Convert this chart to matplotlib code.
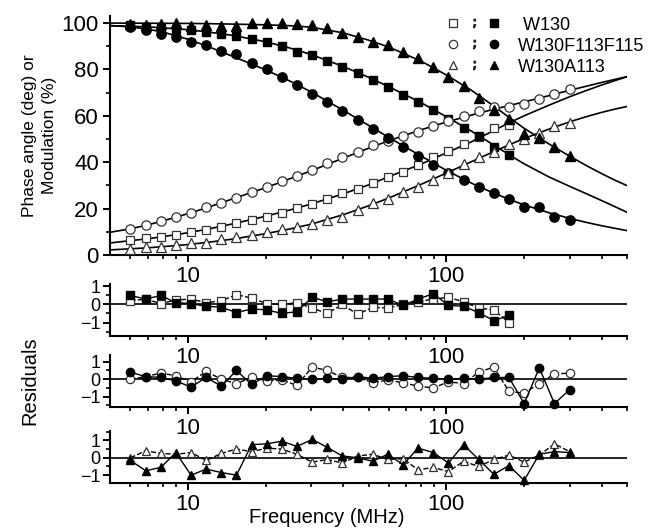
import matplotlib
matplotlib.use('Agg')
import matplotlib.pyplot as plt
from matplotlib.lines import Line2D
from matplotlib.legend_handler import HandlerTuple
from matplotlib.ticker import FixedLocator, NullFormatter

plt.rcParams['font.family'] = ['Liberation Sans', 'DejaVu Sans']

# measurement frequencies (MHz)
freq = [6.0, 6.87, 7.86, 8.99, 10.29, 11.78, 13.48, 15.42, 17.65, 20.2,
        23.1, 26.4, 30.3, 34.6, 39.6, 45.4, 51.9, 59.4, 68.0, 77.8,
        89.0, 101.9, 116.6, 133.4, 152.7, 174.7, 200.0, 228.9, 262.0, 300.0]
freq_w130 = freq[:26]

# W130 (squares)
w130_phase = [6.5, 7.2, 7.6, 8.8, 9.8, 10.8, 11.9, 13.7, 15.1, 16.5, 18.1, 20.1, 22.0,
              24.2, 26.6, 28.5, 30.9, 33.5, 35.7, 39.0, 42.4, 45.0, 47.9, 51.0, 54.6, 56.2]
w130_mod = [99.0, 98.3, 98.0, 97.6, 97.1, 96.1, 95.4, 94.2, 93.2, 91.8, 89.9, 87.5, 86.3,
            83.6, 81.0, 78.6, 75.5, 72.4, 68.8, 65.9, 62.6, 58.7, 54.8, 51.1, 46.5, 42.9]
# W130F113F115 (circles)
w115_phase = [11.2, 12.9, 14.5, 16.3, 18.1, 20.6, 22.4, 24.5, 27.1, 29.2, 31.7, 34.2, 36.5,
              39.7, 42.2, 44.3, 47.2, 49.3, 51.4, 53.2, 55.4, 57.9, 59.7, 61.9, 63.7, 63.9,
              65.2, 67.4, 69.6, 71.4]
w115_mod = [98.3, 97.1, 95.4, 94.0, 91.8, 90.6, 87.9, 86.5, 82.7, 80.3, 76.7, 73.1, 69.5,
            65.9, 62.0, 58.3, 54.4, 50.5, 46.5, 42.6, 39.0, 35.4, 32.4, 29.2, 26.6, 24.2,
            20.6, 20.6, 16.3, 15.3]
# W130A113 (triangles)
wa113_phase = [2.6, 3.3, 3.6, 4.3, 5.0, 5.2, 6.9, 7.9, 8.6, 10.1, 11.2, 12.2, 13.4, 15.1,
               16.5, 19.6, 22.3, 24.2, 27.1, 29.2, 32.5, 35.5, 39.2, 42.2, 44.3, 47.9, 50.1,
               52.7, 55.6, 56.9]
wa113_mod = [99.7, 99.2, 99.4, 100.1, 98.9, 99.2, 98.9, 98.5, 100.1, 100.1, 99.9, 99.7, 99.3,
             97.8, 95.8, 93.8, 92.0, 90.4, 87.3, 84.8, 81.2, 76.5, 73.0, 67.5, 62.3, 58.7,
             52.2, 50.3, 46.4, 42.6]

# fitted curves
fit_freq = [5, 6, 7, 8, 10, 12, 15, 20, 25, 30, 40, 50, 60, 80, 100, 125, 150, 175, 200,
            250, 300, 350, 400, 450, 500]
fit_w130_phase = [5.2, 6.2, 7.0, 7.9, 9.6, 11.2, 13.5, 16.7, 19.5, 22.0, 26.4, 30.2, 33.8,
                  39.2, 44.0, 48.8, 53.2, 57.0, 60.0, 64.6, 68.2, 71.0, 73.3, 75.2, 76.8]
fit_w130_mod = [98.8, 98.6, 98.3, 97.9, 97.1, 96.1, 94.6, 91.9, 89.1, 86.4, 81.2, 76.6, 72.5,
                65.6, 59.6, 53.4, 47.9, 43.2, 39.3, 33.6, 29.6, 26.3, 23.4, 20.8, 18.4]
fit_w115_phase = [9.8, 11.3, 13.0, 14.7, 17.8, 20.6, 24.3, 29.0, 33.0, 36.3, 41.8, 46.0, 49.3,
                  54.0, 57.3, 60.3, 62.6, 64.4, 66.0, 68.7, 71.0, 72.8, 74.4, 75.7, 76.9]
fit_w115_mod = [98.9, 98.3, 97.3, 96.1, 93.0, 89.8, 85.5, 79.8, 74.8, 70.3, 62.3, 55.9, 50.6,
                42.6, 36.5, 31.0, 27.0, 24.0, 21.6, 18.2, 15.8, 14.0, 12.6, 11.5, 10.5]
fit_wa113_phase = [2.2, 2.7, 3.1, 3.6, 4.5, 5.5, 6.9, 9.2, 11.3, 13.3, 17.4, 21.2, 24.6,
                   30.5, 35.3, 40.2, 44.2, 47.5, 50.2, 54.3, 57.4, 59.7, 61.5, 62.9, 64.0]
fit_wa113_mod = [99.95, 99.9, 99.9, 99.85, 99.8, 99.7, 99.5, 99.2, 98.8, 98.2, 95.7, 92.6, 89.6,
                 83.5, 77.6, 71.0, 64.8, 59.3, 54.6, 47.8, 42.6, 38.4, 35.0, 32.2, 29.9]

# residuals (open = phase, filled = modulation)
res_w130_phase = [0.2, 0.3, 0.05, 0.25, 0.3, 0.1, 0.2, 0.55, 0.35, 0.05, 0.0, 0.1, -0.2,
                  -0.5, 0.0, -0.55, -0.15, -0.2, 0.0, 0.15, 0.3, 0.4, 0.15, -0.2, -0.3, -1.0]
res_w130_mod = [0.5, 0.3, 0.5, 0.1, 0.05, -0.1, -0.15, -0.45, -0.25, -0.3, -0.5, -0.4, 0.4,
                0.15, 0.3, 0.3, 0.3, 0.3, -0.05, 0.3, 0.6, -0.05, -0.1, -0.45, -0.9, -0.6]
res_w115_phase = [0.0, 0.15, 0.35, 0.2, -0.15, 0.45, 0.0, -0.25, 0.1, -0.1, -0.05, -0.35, 0.7,
                  0.5, 0.1, 0.1, -0.2, -0.05, -0.2, -0.4, -0.5, -0.15, -0.25, 0.4, 0.7, -0.7,
                  -0.8, -0.25, 0.3, 0.35]
res_w115_mod = [0.4, 0.15, 0.1, -0.1, -0.45, 0.1, -0.4, 0.5, -0.3, 0.2, 0.15, 0.05, 0.0, 0.05,
                0.0, 0.15, 0.05, 0.15, 0.2, 0.1, 0.05, 0.0, 0.05, 0.0, 0.1, 0.1, -1.4, 0.65,
                -1.4, -0.6]
res_wa113_phase = [0.0, 0.4, 0.25, 0.2, 0.3, -0.15, 0.25, 0.5, 0.35, 0.55, 0.5, 0.2, -0.25,
                   -0.1, -0.3, 0.1, 0.2, -0.1, -0.05, -0.7, -0.55, -0.8, -0.2, -0.5, -0.1, 0.15,
                   -0.25, 0.15, 0.8, 0.35]
res_wa113_mod = [-0.15, -0.75, -0.55, 0.3, -1.0, -0.65, -0.85, -1.0, 0.75, 0.8, 0.95, 0.65,
                 1.05, 0.6, 0.1, 0.0, -0.2, 0.2, -0.4, 0.55, 0.3, -0.3, 0.75, -0.1, -0.95, -0.45,
                 -1.3, 0.2, 0.35, 0.3]

names = [' W130', 'W130F113F115', 'W130A113']
minor_x = [6, 7, 8, 9, 20, 30, 40, 50, 60, 70, 80, 90, 200, 300, 400, 500]


def style_x(a):
    a.set_xscale('log')
    a.set_xlim(5, 500)
    a.xaxis.set_major_locator(FixedLocator([10, 100]))
    a.set_xticklabels(['10', '100'])
    a.xaxis.set_minor_locator(FixedLocator(minor_x))
    a.xaxis.set_minor_formatter(NullFormatter())
    for s in ['top', 'right']:
        a.spines[s].set_visible(False)
    for s in ['left', 'bottom']:
        a.spines[s].set_linewidth(1.5)
    a.tick_params(which='major', direction='out', length=5, width=1.4, labelsize=16, pad=3)
    a.tick_params(which='minor', direction='out', length=3, width=1.2)


fig = plt.figure(figsize=(6.58, 5.28), dpi=100)
ax = fig.add_axes([0.1672, 0.517, 0.7857, 0.4527])
style_x(ax)
ax.set_ylim(0, 103)
ax.yaxis.set_major_locator(FixedLocator([0, 20, 40, 60, 80, 100]))
ax.yaxis.set_minor_locator(FixedLocator([10, 30, 50, 70, 90]))
ax.set_ylabel('Phase angle (deg) or\nModulation (%)', fontsize=12.5, linespacing=1.4)
ax.yaxis.set_label_coords(-0.102, 0.5)

for fx in [fit_w130_phase, fit_w130_mod, fit_w115_phase, fit_w115_mod,
           fit_wa113_phase, fit_wa113_mod]:
    ax.plot(fit_freq, fx, color='black', lw=1.2, zorder=2)

ms = 6.2
ax.plot(freq_w130, w130_phase, 's', mfc='white', mec='#333333', mew=0.9, ms=ms, zorder=3)
ax.plot(freq_w130, w130_mod, 's', color='black', ms=ms, zorder=3)
ax.plot(freq, w115_phase, 'o', mfc='white', mec='#333333', mew=0.9, ms=ms + 0.5, zorder=3)
ax.plot(freq, w115_mod, 'o', color='black', ms=ms + 0.5, zorder=3)
ax.plot(freq, wa113_phase, '^', mfc='white', mec='#333333', mew=0.9, ms=ms + 0.5, zorder=3)
ax.plot(freq, wa113_mod, '^', color='black', ms=ms + 0.5, zorder=3)

handles = []
for m in ['s', 'o', '^']:
    o = Line2D([], [], ls='none', marker=m, mfc='white', mec='#333333', mew=0.9, ms=6)
    semi = Line2D([], [], ls='none', marker='$;$', color='#222222', ms=6)
    f = Line2D([], [], ls='none', marker=m, color='black', ms=6)
    handles.append((o, semi, f))
ax.legend(handles, names,
          handler_map={tuple: HandlerTuple(ndivide=None, pad=0.6)},
          loc='upper left', bbox_to_anchor=(0.655, 0.997), frameon=False,
          fontsize=13, handlelength=2.8, handletextpad=1.05, labelspacing=0.22,
          borderpad=0, borderaxespad=0)

res_sets = [
    ('s', freq_w130, res_w130_phase, res_w130_mod),
    ('o', freq, res_w115_phase, res_w115_mod),
    ('^', freq, res_wa113_phase, res_wa113_mod),
]
bottoms = [0.3636, 0.229, 0.0852]
limits = [(-1.75, 1.15), (-1.6, 1.4), (-1.45, 1.55)]
res_axes = []
for (m, fr, rp, rm), b, lim in zip(res_sets, bottoms, limits):
    r = fig.add_axes([0.1672, b, 0.7857, 0.099])
    r.patch.set_visible(False)
    style_x(r)
    r.set_ylim(*lim)
    r.yaxis.set_major_locator(FixedLocator([-1, 0, 1]))
    r.yaxis.set_minor_locator(FixedLocator([-1.5, -0.5, 0.5, 1.5]))
    r.tick_params(axis='y', which='major', labelsize=13, pad=2)
    r.axhline(0, color='black', lw=1.2, zorder=1)
    r.plot(fr, rp, marker=m, ls='--', color='black', mfc='white', mec='#333333',
           mew=0.9, ms=6, lw=1.0, zorder=3, clip_on=False)
    r.plot(fr, rm, marker=m, ls='-', color='black', ms=6, lw=1.0, zorder=3, clip_on=False)
    res_axes.append(r)

res_axes[1].set_ylabel('Residuals', fontsize=14.5)
res_axes[1].yaxis.set_label_coords(-0.137, 0.5)
res_axes[2].set_xlabel('Frequency (MHz)', fontsize=14.5)
res_axes[2].xaxis.set_label_coords(0.42, -0.47)

fig.savefig('out.png', dpi=100)
